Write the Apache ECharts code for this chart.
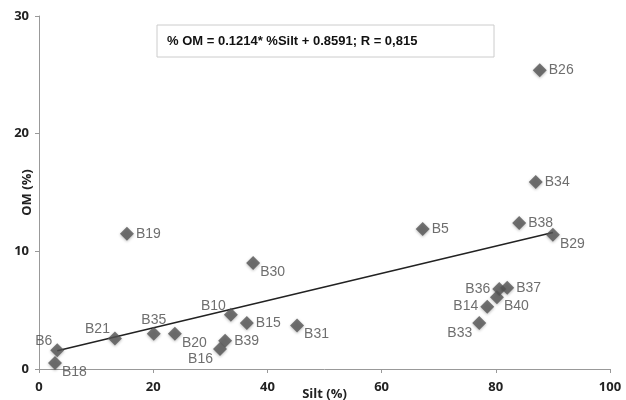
<!DOCTYPE html>
<html>
<head>
<meta charset="utf-8">
<script src="https://cdn.jsdelivr.net/npm/echarts@6/dist/echarts.min.js"></script>
<style>
  html, body { margin: 0; padding: 0; background: #fff; }
  #chart { width: 626px; height: 400px; }
</style>
</head>
<body>
<div id="chart"></div>
<script>
// sample ids, silt %, OM %, where the label sits
const names = ['B26', 'B34', 'B38', 'B29', 'B5', 'B19', 'B30', 'B36', 'B37', 'B40', 'B14', 'B33',
  'B31', 'B10', 'B15', 'B20', 'B35', 'B21', 'B39', 'B16', 'B6', 'B18'];
const silt = [87.7, 87.0, 84.1, 90.0, 67.2, 15.4, 37.5, 80.6, 82.0, 80.2, 78.5, 77.1,
  45.2, 33.6, 36.4, 23.8, 20.1, 13.3, 32.6, 31.7, 3.2, 2.8];
const om = [25.4, 15.9, 12.4, 11.4, 11.9, 11.5, 9.0, 6.8, 6.9, 6.1, 5.3, 3.9,
  3.7, 4.6, 3.9, 3.0, 3.0, 2.6, 2.4, 1.7, 1.6, 0.5];
const labelPos = ['right', 'right', 'right', 'bottomRight', 'right', 'right', 'bottomRight', 'left', 'right', 'bottomRight', 'left', 'bottomLeft',
  'bottomRight', 'topLeft', 'right', 'bottomRight', 'top', 'topLeft', 'right', 'bottomLeft', 'topLeft', 'bottomRight'];

// trend line ends
const trendX = [3.2, 90];
const trendY = [1.55, 11.6];

const xTicks = [0, 20, 40, 60, 80, 100];
const yTicks = [0, 10, 20, 30];

const chart = echarts.init(document.getElementById('chart'));

const points = names.map((n, i) => {
  let pos = labelPos[i];
  let position = pos, offset = [0, 0];
  if (pos === 'bottomRight') { position = 'right'; offset = [-2, 9]; }
  if (pos === 'bottomLeft') { position = 'left'; offset = [2, 10]; }
  if (pos === 'topLeft') { position = 'left'; offset = [4, -9]; }
  if (pos === 'top') { position = 'top'; offset = [0, 2]; }
  return {
    value: [silt[i], om[i]],
    label: { show: true, formatter: n, position: position, offset: offset, distance: 2 }
  };
});

const axisText = { color: '#222', fontWeight: 'bold', fontSize: 13, fontFamily: 'Open Sans, Arial, sans-serif' };

chart.setOption({
  animation: false,
  grid: { left: 39, right: 16, top: 16, bottom: 31, containLabel: false, outerBoundsMode: 'none' },
  xAxis: {
    type: 'value', min: 0, max: 100, interval: 20,
    name: 'Silt (%)', nameLocation: 'middle', nameGap: 19, nameMoveOverlap: false,
    nameTextStyle: axisText,
    axisLine: { show: true, lineStyle: { color: '#999' } },
    axisTick: { show: true, length: 4, lineStyle: { color: '#999' } },
    axisLabel: Object.assign({ margin: 12, formatter: v => xTicks.includes(v) ? v : '' }, axisText),
    splitLine: { show: false }
  },
  yAxis: {
    type: 'value', min: 0, max: 30, interval: 10,
    name: 'OM (%)', nameLocation: 'middle', nameGap: 5, nameRotate: 90, nameMoveOverlap: false,
    nameTextStyle: axisText,
    axisLine: { show: true, lineStyle: { color: '#999' } },
    axisTick: { show: true, length: 4, lineStyle: { color: '#999' } },
    axisLabel: Object.assign({ margin: 10, formatter: v => yTicks.includes(v) ? v : '' }, axisText),
    splitLine: { show: false }
  },
  series: [
    {
      type: 'line',
      data: trendX.map((x, i) => [x, trendY[i]]),
      symbol: 'none',
      lineStyle: { color: '#222', width: 1.5 },
      z: 1
    },
    {
      type: 'scatter',
      data: points,
      symbol: 'diamond',
      symbolSize: 14,
      itemStyle: {
        color: '#555',
        shadowColor: 'rgba(0,0,0,0.35)',
        shadowBlur: 3,
        shadowOffsetY: 1
      },
      label: {
        color: '#4a4a4a',
        fontSize: 14,
        fontFamily: 'Liberation Sans, Arial, sans-serif'
      },
      z: 2
    }
  ],
  graphic: [
    {
      type: 'rect',
      shape: { x: 157, y: 25, width: 337, height: 32 },
      style: { fill: '#fff', stroke: '#ccc', lineWidth: 1 }
    },
    {
      type: 'text',
      x: 167, y: 41,
      style: {
        text: '% OM = 0.1214* %Silt + 0.8591; R = 0,815',
        fill: '#111',
        font: 'bold 13px "Liberation Sans", Arial, sans-serif',
        verticalAlign: 'middle'
      }
    }
  ]
});
</script>
</body>
</html>
